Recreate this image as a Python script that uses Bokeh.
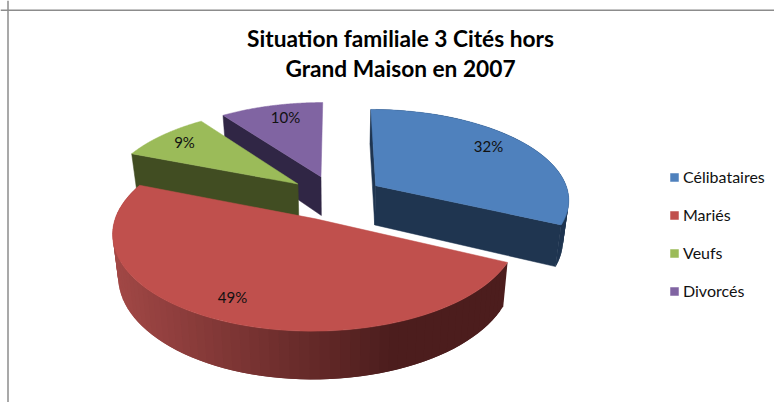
import numpy as np
from bokeh.plotting import figure
from bokeh.models import Range1d, Legend, LegendItem, Span
from bokeh.core.properties import value
from bokeh.embed import file_html
from bokeh.resources import INLINE

# ---- data ----
categories = ["Célibataires", "Mariés", "Veufs", "Divorcés"]
shares = [32, 49, 9, 10]
top_colors = ["#4f81bd", "#c0504d", "#9bbb59", "#8064a2"]
wall_colors = ["#1f3550", "#7a302f", "#414d22", "#302645"]
title_lines = ["Situation familiale 3 Cités hors", "Grand Maison en 2007"]
label_px = [(488, 145.5), (232, 296.5), (184, 141.5), (285, 116.5)]

W, H = 774, 402
FONT = value("Lato")
CX, CY, A, B, EXPLODE, K, DEPTH, SHRINK = 335, 197, 194, 90, 0.25, 0.14, 40, 0.975


def project(theta_deg, radius, mid_deg):
    """theta clockwise from the back of the pie; returns top and bottom face points."""
    t, m = np.radians(theta_deg), np.radians(mid_deg)
    u = radius * np.sin(t) + EXPLODE * np.sin(m)
    v = -radius * np.cos(t) - EXPLODE * np.cos(m)
    s = 1 / (1 - K * v)
    x = CX + A * u * s
    y = CY + B * v * s
    return x, y, CX + (x - CX) * SHRINK, y + DEPTH * s


def hex_mix(c1, c2, f):
    a = [int(c1[i:i + 2], 16) for i in (1, 3, 5)]
    b = [int(c2[i:i + 2], 16) for i in (1, 3, 5)]
    return "#%02x%02x%02x" % tuple(int(round(p + (q - p) * f)) for p, q in zip(a, b))


p = figure(width=W, height=H, output_backend="svg", toolbar_location=None,
           x_range=Range1d(0, W), y_range=Range1d(H, 0), min_border=0,
           outline_line_color=None, background_fill_color="white", border_fill_color="white")
p.xaxis.visible = False
p.yaxis.visible = False
p.grid.visible = False

# frame of the pasted picture
p.add_layout(Span(location=7.5, dimension="height", line_color="#8c8c8c", line_width=1.5))
p.add_layout(Span(location=9.7, dimension="width", line_color="#8c8c8c", line_width=1.5))

edges = np.concatenate([[0], np.cumsum(shares)]) * 3.6
slices = [(edges[i], edges[i + 1]) for i in range(len(shares))]
top_renderers = {}


def draw_radial_wall(theta, mid, color):
    x0, y0, x0b, y0b = project(theta, 0.0, mid)
    x1, y1, x1b, y1b = project(theta, 1.0, mid)
    p.patch([x0, x1, x1b, x0b], [y0, y1, y1b, y0b], fill_color=color, line_color=color, line_width=0.5)


def draw_top(i):
    a0, a1 = slices[i]
    mid = (a0 + a1) / 2
    th = np.linspace(a0, a1, 90)
    xs, ys, _, _ = project(th, 1.0, mid)
    cx, cy, _, _ = project(0.0, 0.0, mid)
    top_renderers[i] = p.patch(np.r_[cx, xs], np.r_[cy, ys], fill_color=top_colors[i],
                               line_color=top_colors[i], line_width=0.5)


def rim(i, shade):
    a0, a1 = slices[i]
    mid = (a0 + a1) / 2
    th = np.linspace(a0, a1, 71)
    x, y, xb, yb = project(th, 1.0, mid)
    n = len(th)
    # each band reaches over the next one, so no seams show between them
    qx = [[x[j], x[min(j + 2, n - 1)], xb[min(j + 2, n - 1)], xb[j]] for j in range(n - 1)]
    qy = [[y[j], y[min(j + 2, n - 1)], yb[min(j + 2, n - 1)], yb[j]] for j in range(n - 1)]
    colors = [shade((x[j] + x[j + 1]) / 2) for j in range(n - 1)]
    p.patches(qx, qy, fill_color=colors, line_color=None)


def red_shade(x):
    f = np.clip((x - 112) / (392 - 112), 0, 1)
    return hex_mix("#a24846", "#4c1d1d", f)


# back to front: Divorcés, Veufs, Célibataires, Mariés
draw_radial_wall(slices[3][0], sum(slices[3]) / 2, wall_colors[3])
draw_top(3)
draw_radial_wall(slices[2][0], sum(slices[2]) / 2, wall_colors[2])
draw_top(2)
draw_radial_wall(slices[0][0], sum(slices[0]) / 2, wall_colors[0])
rim(0, lambda x: wall_colors[0])
draw_radial_wall(slices[0][1], sum(slices[0]) / 2, wall_colors[0])
draw_top(0)
rim(1, red_shade)
draw_top(1)

# percentage labels
for (lx, ly), s in zip(label_px, shares):
    p.text([lx], [ly], text=[f"{s}%"], text_align="center", text_baseline="middle",
           text_font=FONT, text_font_size="15px", text_color="#111111")

# title
for line, ty in zip(title_lines, [38, 67.5]):
    p.text([400], [ty], text=[line], text_align="center", text_baseline="middle",
           text_font=FONT, text_font_size="22.7px", text_font_style="bold", text_color="#000000")

legend = Legend(items=[LegendItem(label=c, renderers=[top_renderers[i]]) for i, c in enumerate(categories)],
                location=(669, H - 300), orientation="vertical", glyph_width=10, glyph_height=10,
                label_height=10, label_standoff=4, spacing=19, padding=0, margin=0,
                border_line_color=None, background_fill_alpha=0,
                label_text_font="Lato", label_text_font_size="16px", label_text_color="#111111")
p.add_layout(legend, "center")

open("out.html", "w").write(file_html(p, INLINE))
